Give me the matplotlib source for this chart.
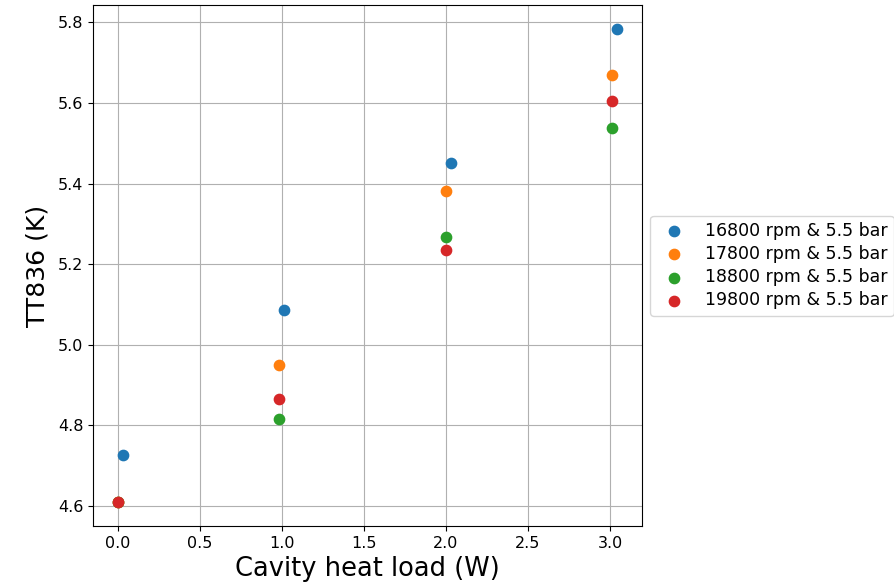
import numpy as np
import matplotlib.pyplot as plt

# Cavity heat load (W) and TT836 temperature (K) for each compressor setting
heat_16800 = [0.03, 1.01, 2.03, 3.04]
temp_16800 = [4.726, 5.085, 5.451, 5.784]

heat_17800 = [0.0, 0.98, 2.0, 3.01]
temp_17800 = [4.608, 4.950, 5.381, 5.669]

heat_18800 = [0.0, 0.985, 2.0, 3.01]
temp_18800 = [4.608, 4.815, 5.267, 5.538]

heat_19800 = [0.0, 0.985, 2.0, 3.01]
temp_19800 = [4.608, 4.864, 5.235, 5.604]

labels = ["16800 rpm & 5.5 bar", "17800 rpm & 5.5 bar",
          "18800 rpm & 5.5 bar", "19800 rpm & 5.5 bar"]

fig = plt.figure(figsize=(8.94, 5.84), dpi=100)
ax = fig.add_axes([0.104, 0.0993, 0.6136, 0.8917])

for x, y, lab in zip([heat_16800, heat_17800, heat_18800, heat_19800],
                     [temp_16800, temp_17800, temp_18800, temp_19800],
                     labels):
    ax.scatter(x, y, s=55, label=lab, zorder=3)

ax.grid(True)
ax.set_axisbelow(True)
ax.set_xticks(np.arange(0, 3.01, 0.5))
ax.set_yticks(np.arange(4.6, 5.81, 0.2))
ax.tick_params(labelsize=11.5)
ax.set_xlabel("Cavity heat load (W)", fontsize=18.5)
ax.set_ylabel("TT836 (K)", fontsize=18, labelpad=6)

ax.legend(loc="center left", bbox_to_anchor=(1.0, 0.5), fontsize=12.5,
          labelspacing=0.3, borderpad=0.35)

fig.savefig("out.png", dpi=100)
